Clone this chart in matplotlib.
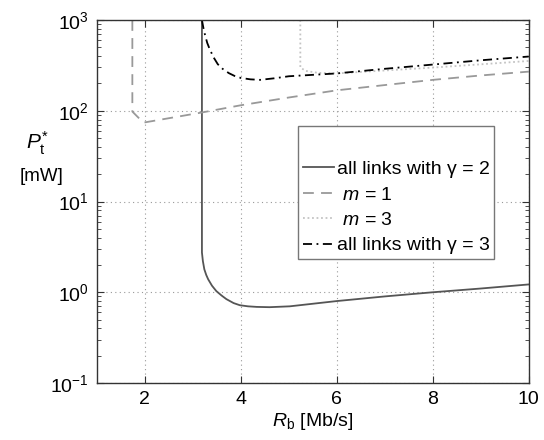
import numpy as np
import matplotlib
matplotlib.use('Agg')
import matplotlib.pyplot as plt
from matplotlib.ticker import LogLocator, NullFormatter

plt.rcParams['font.family'] = ['Liberation Sans', 'DejaVu Sans']
plt.rcParams['mathtext.fontset'] = 'custom'
plt.rcParams['mathtext.rm'] = 'Liberation Sans'
plt.rcParams['mathtext.it'] = 'Liberation Sans:italic'
plt.rcParams['mathtext.bf'] = 'Liberation Sans:bold'

# all links with gamma = 2
rb_g2 = [3.19, 3.19, 3.21, 3.24, 3.28, 3.32, 3.40, 3.49, 3.60, 3.70, 3.85, 3.98, 4.15, 4.33,
         4.6, 5.02, 6.0, 7.0, 8.0, 9.0, 10.0]
pt_g2 = [1000, 2.74, 2.2, 1.79, 1.55, 1.39, 1.18, 1.03, 0.92, 0.84, 0.76, 0.72, 0.70, 0.69,
         0.685, 0.70, 0.80, 0.90, 1.0, 1.1, 1.22]

# m = 1
rb_m1 = [1.74, 1.74, 1.97, 3.2, 4.0, 5.0, 6.0, 7.0, 8.0, 9.0, 10.0]
pt_m1 = [1000, 98, 74, 96, 115, 140, 168, 192, 219, 245, 270]

# m = 3
rb_m3 = [5.24, 5.24, 5.35, 5.6, 6.0, 7.0, 8.0, 9.0, 10.0]
pt_m3 = [1000, 300, 275, 262, 258, 278, 299, 325, 354]

# all links with gamma = 3
rb_g3 = [3.19, 3.22, 3.25, 3.30, 3.35, 3.43, 3.52, 3.62, 3.75, 3.87, 4.0, 4.2, 4.4, 4.7,
         5.0, 6.0, 7.0, 8.0, 9.0, 10.0]
pt_g3 = [1000, 820, 700, 560, 480, 390, 326, 290, 260, 242, 230, 222, 219, 228,
         240, 258, 290, 323, 360, 396]

fig = plt.figure(figsize=(5.44, 4.4), dpi=100)
ax = fig.add_axes([0.178, 0.1295, 0.794, 0.825])

ax.plot(rb_g2, pt_g2, color='#555555', lw=1.3, label='all links with γ = 2')
ax.plot(rb_m1, pt_m1, color='#999999', lw=1.3, linestyle=(0, (6, 4)), label=' $m$ = 1')
ax.plot(rb_m3, pt_m3, color='#c4c4c4', lw=1.3, linestyle=(0, (1, 1.5)), label=' $m$ = 3')
ax.plot(rb_g3, pt_g3, color='black', lw=1.3, linestyle=(0, (5, 2.5, 1, 2.5)),
        label='all links with γ = 3')

ax.set_yscale('log')
ax.set_xlim(1, 10)
ax.set_ylim(0.1, 1000)
ax.set_xticks([2, 4, 6, 8, 10])
ax.yaxis.set_major_locator(LogLocator(base=10, numticks=10))
ax.yaxis.set_minor_locator(LogLocator(base=10, subs=np.arange(2, 10), numticks=20))
ax.yaxis.set_minor_formatter(NullFormatter())

ax.grid(True, which='major', linestyle=(0, (1, 3)), color='#999999', lw=0.8)
ax.tick_params(which='both', direction='in', top=True, right=True, labelsize=14,
               color='#333333', pad=6)
ax.tick_params(which='major', length=5)
ax.tick_params(which='minor', length=3)
for s in ax.spines.values():
    s.set_color('#333333')
    s.set_linewidth(1.0)

ax.set_xlabel('$R_\\mathrm{b}$ [Mb/s]', fontsize=14, labelpad=2)
fig.text(0.068, 0.675, '$P_\\mathrm{t}^{*}$', fontsize=15, ha='center', va='center')
fig.text(0.077, 0.6, '[mW]', fontsize=13.5, ha='center', va='center')

leg = ax.legend(loc='upper left', bbox_to_anchor=(0.465, 0.708), borderaxespad=0,
                fontsize=14, title=' ', title_fontsize=17, fancybox=False,
                handlelength=1.6, handletextpad=0.15, labelspacing=0.4,
                borderpad=0.25, framealpha=1)
leg.get_frame().set_edgecolor('#777777')
leg.get_frame().set_linewidth(1.0)

fig.savefig('out.png', dpi=100)
